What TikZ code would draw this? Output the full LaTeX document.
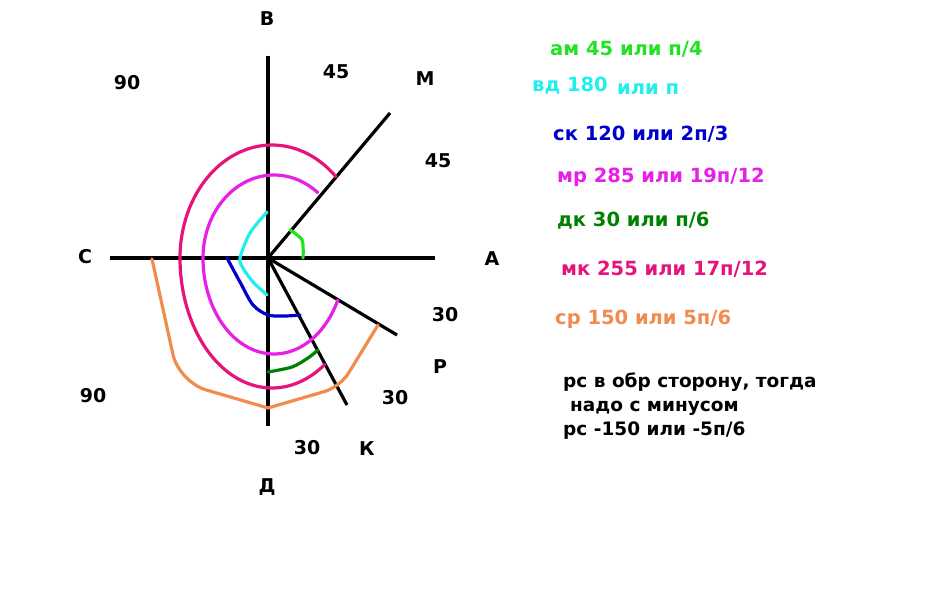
\documentclass[tikz,border=0pt]{standalone}
\usepackage{fontspec}
\setmainfont{DejaVu Sans}
\definecolor{cgreen}{RGB}{34,226,34}
\definecolor{ccyan}{RGB}{34,238,238}
\definecolor{cblue}{RGB}{0,0,204}
\definecolor{cmag}{RGB}{230,32,230}
\definecolor{cdkgreen}{RGB}{0,128,0}
\definecolor{ccrim}{RGB}{230,20,122}
\definecolor{corange}{RGB}{240,140,80}
\begin{document}
\begin{tikzpicture}[x=1pt,y=-1pt,
  axis/.style={line width=3.2pt, black, line cap=butt},
  curve/.style={line width=3.2pt, line cap=round, line join=round},
  lbl/.style={font=\fontsize{19}{22}\selectfont\bfseries, inner sep=0pt, text height=13.9pt, text depth=0pt},
  note/.style={lbl, font=\fontsize{19.5}{22}\selectfont\bfseries, text height=14.2pt, anchor=west},
  bnote/.style={lbl, font=\fontsize{18.5}{22}\selectfont\bfseries, text height=13.5pt, anchor=west}]
\useasboundingbox (0,0) rectangle (940,604);
\fill[white] (0,0) rectangle (940,604);
% axes and rays
\coordinate (O) at (268,258);
\coordinate (Bt) at (268,56);
\coordinate (Db) at (268,426);
\coordinate (Cl) at (110,258);
\coordinate (Ar) at (435,258);
\coordinate (Me) at (390,113);
\coordinate (Pe) at (397,335);
\coordinate (Ke) at (347,405);
\draw[axis] (Bt) -- (Db);
\draw[axis] (Cl) -- (Ar);
\draw[axis] (O) -- (Me);
\draw[axis] (O) -- (Pe);
\draw[axis] (O) -- (Ke);
% crimson arc (upper and lower halves)
\draw[curve, ccrim] plot[domain=46:180, samples=60, variable=\t] ({272+92*cos(\t)},{258-113*sin(\t)});
\draw[curve, ccrim] plot[domain=180:305, samples=60, variable=\t] ({272+92*cos(\t)},{258-130*sin(\t)});
% magenta arc
\draw[curve, cmag] plot[domain=52:180, samples=60, variable=\t] ({274+71*cos(\t)},{258-83*sin(\t)});
\draw[curve, cmag] plot[domain=180:334, samples=60, variable=\t] ({274+71*cos(\t)},{258-96*sin(\t)});
% small arcs
\draw[curve, ccyan] plot[smooth] coordinates {(267,212) (250,233) (240,258) (243,268) (253,282) (267,295)};
\draw[curve, cblue] plot[smooth] coordinates {(227,258) (240,282) (253,305) (268,315) (285,316) (300,315)};
\draw[curve, cgreen] plot[smooth] coordinates {(290,230) (302,240) (303,258)};
\draw[curve, cdkgreen] plot[smooth] coordinates {(268,372) (292,367) (308,358) (318,350)};
% orange
\draw[curve, corange, rounded corners=28pt] (152,259) -- (179,382) -- (268,408);
\draw[curve, corange, rounded corners=16pt] (268,408) -- (340,387) -- (378,325);
% labels
\node[lbl] (lB) at (267,19) {В};
\node[lbl] (l90a) at (127,83) {90};
\node[lbl] (l45a) at (336,72) {45};
\node[lbl] (lM) at (425,79) {М};
\node[lbl] (l45b) at (438,161) {45};
\node[lbl] (lC) at (85,257) {С};
\node[lbl] (lA) at (492,259) {А};
\node[lbl] (l30a) at (445,315) {30};
\node[lbl] (lP) at (440,367) {Р};
\node[lbl] (l30b) at (395,398) {30};
\node[lbl] (l90b) at (93,396) {90};
\node[lbl] (l30c) at (307,448) {30};
\node[lbl] (lK) at (367,449) {К};
\node[lbl] (lD) at (267,486) {Д};
% notes
\node[note, cgreen] (n1) at (550,48) {ам 45 или п/4};
\node[note, ccyan] (n2a) at (532,84) {вд 180};
\node[note, ccyan] (n2b) at (617,87) {или п};
\node[note, cblue] (n3) at (553,133) {ск 120 или 2п/3};
\node[note, cmag] (n4) at (557,175) {мр 285 или 19п/12};
\node[note, cdkgreen] (n5) at (557,219) {дк 30 или п/6};
\node[note, ccrim] (n6) at (561,268) {мк 255 или 17п/12};
\node[note, corange] (n7) at (555,317) {ср 150 или 5п/6};
\node[bnote] (n8) at (563,381) {рс в обр сторону, тогда};
\node[bnote] (n9) at (570,405) {надо с минусом};
\node[bnote] (n10) at (563,429) {рс -150 или -5п/6};
\end{tikzpicture}
\end{document}
